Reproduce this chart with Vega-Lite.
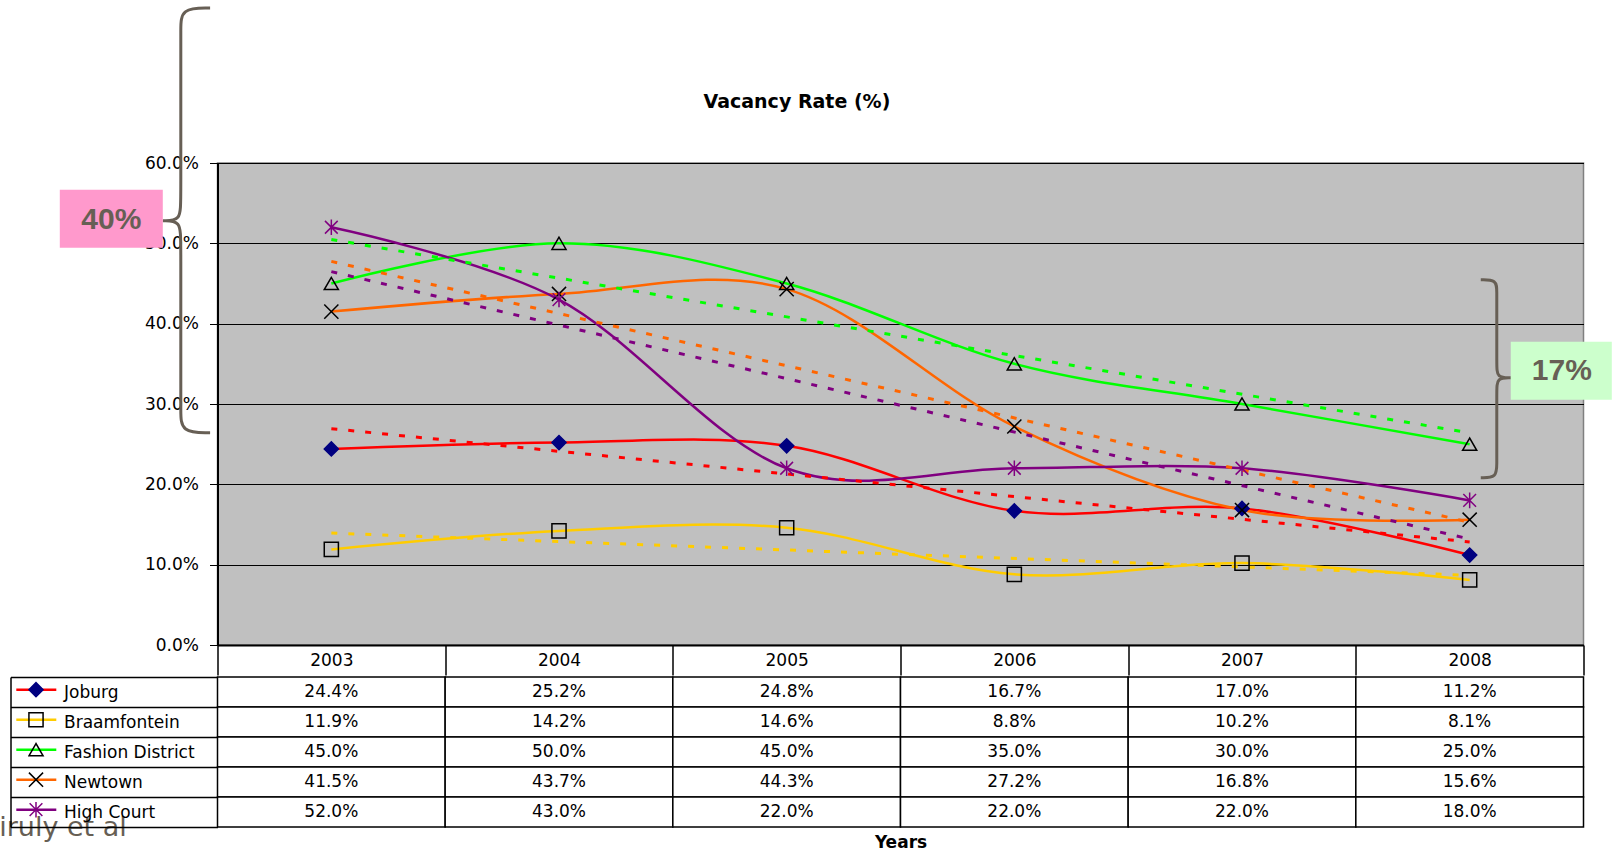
{
  "$schema": "https://vega.github.io/schema/vega-lite/v6.json",
  "background": "white",
  "padding": {"left": -19.5, "top": 1, "right": 1, "bottom": 0},
  "title": {"text": "Vacancy Rate (%)", "font": "DejaVu Sans", "fontSize": 19, "fontWeight": "bold", "color": "black", "anchor": "middle", "offset": -111},
  "datasets": {
    "rates": [
      {"series": "Joburg", "year": 2003, "value": 0.244},
      {"series": "Joburg", "year": 2004, "value": 0.252},
      {"series": "Joburg", "year": 2005, "value": 0.248},
      {"series": "Joburg", "year": 2006, "value": 0.167},
      {"series": "Joburg", "year": 2007, "value": 0.170},
      {"series": "Joburg", "year": 2008, "value": 0.112},
      {"series": "Braamfontein", "year": 2003, "value": 0.119},
      {"series": "Braamfontein", "year": 2004, "value": 0.142},
      {"series": "Braamfontein", "year": 2005, "value": 0.146},
      {"series": "Braamfontein", "year": 2006, "value": 0.088},
      {"series": "Braamfontein", "year": 2007, "value": 0.102},
      {"series": "Braamfontein", "year": 2008, "value": 0.081},
      {"series": "Fashion District", "year": 2003, "value": 0.45},
      {"series": "Fashion District", "year": 2004, "value": 0.50},
      {"series": "Fashion District", "year": 2005, "value": 0.45},
      {"series": "Fashion District", "year": 2006, "value": 0.35},
      {"series": "Fashion District", "year": 2007, "value": 0.30},
      {"series": "Fashion District", "year": 2008, "value": 0.25},
      {"series": "Newtown", "year": 2003, "value": 0.415},
      {"series": "Newtown", "year": 2004, "value": 0.437},
      {"series": "Newtown", "year": 2005, "value": 0.443},
      {"series": "Newtown", "year": 2006, "value": 0.272},
      {"series": "Newtown", "year": 2007, "value": 0.168},
      {"series": "Newtown", "year": 2008, "value": 0.156},
      {"series": "High Court", "year": 2003, "value": 0.52},
      {"series": "High Court", "year": 2004, "value": 0.43},
      {"series": "High Court", "year": 2005, "value": 0.22},
      {"series": "High Court", "year": 2006, "value": 0.22},
      {"series": "High Court", "year": 2007, "value": 0.22},
      {"series": "High Court", "year": 2008, "value": 0.18}
    ],
    "trend": [
      {"series": "Joburg", "year": 2003, "value": 0.2693},
      {"series": "Joburg", "year": 2008, "value": 0.1283},
      {"series": "Braamfontein", "year": 2003, "value": 0.1393},
      {"series": "Braamfontein", "year": 2008, "value": 0.0867},
      {"series": "Fashion District", "year": 2003, "value": 0.5048},
      {"series": "Fashion District", "year": 2008, "value": 0.2640},
      {"series": "Newtown", "year": 2003, "value": 0.4775},
      {"series": "Newtown", "year": 2008, "value": 0.1528},
      {"series": "High Court", "year": 2003, "value": 0.4648},
      {"series": "High Court", "year": 2008, "value": 0.1319}
    ],
    "brace": [
      {"brace": "left", "ord": 1, "ax": 2002.4675, "ay": 0.79296},
      {"brace": "left", "ord": 2, "ax": 2002.3388, "ay": 0.79296},
      {"brace": "left", "ord": 3, "ax": 2002.3388, "ay": 0.76594},
      {"brace": "left", "ord": 4, "ax": 2002.3388, "ay": 0.72859},
      {"brace": "left", "ord": 5, "ax": 2002.3388, "ay": 0.55431},
      {"brace": "left", "ord": 6, "ax": 2002.3388, "ay": 0.52817},
      {"brace": "left", "ord": 7, "ax": 2002.2597, "ay": 0.52817},
      {"brace": "left", "ord": 8, "ax": 2002.2597, "ay": 0.52817},
      {"brace": "left", "ord": 9, "ax": 2002.2597, "ay": 0.52817},
      {"brace": "left", "ord": 10, "ax": 2002.3388, "ay": 0.52817},
      {"brace": "left", "ord": 11, "ax": 2002.3388, "ay": 0.50203},
      {"brace": "left", "ord": 12, "ax": 2002.3388, "ay": 0.32775},
      {"brace": "left", "ord": 13, "ax": 2002.3388, "ay": 0.29165},
      {"brace": "left", "ord": 14, "ax": 2002.3388, "ay": 0.26426},
      {"brace": "left", "ord": 15, "ax": 2002.4675, "ay": 0.26426},
      {"brace": "right", "ord": 1, "ax": 2008.0488, "ay": 0.45472},
      {"brace": "right", "ord": 2, "ax": 2008.1191, "ay": 0.45472},
      {"brace": "right", "ord": 3, "ax": 2008.1191, "ay": 0.43979},
      {"brace": "right", "ord": 4, "ax": 2008.1191, "ay": 0.41738},
      {"brace": "right", "ord": 5, "ax": 2008.1191, "ay": 0.34891},
      {"brace": "right", "ord": 6, "ax": 2008.1191, "ay": 0.33273},
      {"brace": "right", "ord": 7, "ax": 2008.1806, "ay": 0.33273},
      {"brace": "right", "ord": 8, "ax": 2008.1806, "ay": 0.33273},
      {"brace": "right", "ord": 9, "ax": 2008.1806, "ay": 0.33273},
      {"brace": "right", "ord": 10, "ax": 2008.1191, "ay": 0.33273},
      {"brace": "right", "ord": 11, "ax": 2008.1191, "ay": 0.31655},
      {"brace": "right", "ord": 12, "ax": 2008.1191, "ay": 0.24808},
      {"brace": "right", "ord": 13, "ax": 2008.1191, "ay": 0.22567},
      {"brace": "right", "ord": 14, "ax": 2008.1191, "ay": 0.20824},
      {"brace": "right", "ord": 15, "ax": 2008.0488, "ay": 0.20824}
    ],
    "boxes": [
      {"label": "40%", "x1": 2001.8073, "x2": 2002.2597, "y1": 0.5668, "y2": 0.4946, "tx": 2002.0335, "ty": 0.5288},
      {"label": "17%", "x1": 2008.1806, "x2": 2008.6243, "y1": 0.3775, "y2": 0.3053, "tx": 2008.405, "ty": 0.3414}
    ]
  },
  "spacing": -10,
  "vconcat": [
    {
      "width": 1366,
      "height": 482,
      "view": {"fill": "#C0C0C0", "stroke": "#808080", "strokeWidth": 1.5},
      "layer": [
        {
          "data": {"name": "rates"},
          "mark": {"type": "line", "interpolate": "cardinal", "strokeWidth": 2.5},
          "encoding": {
            "x": {
              "field": "year", "type": "quantitative",
              "scale": {"domain": [2002.5, 2008.5], "nice": false, "zero": false},
              "axis": {"orient": "bottom", "title": null, "values": [2002.5, 2003.5, 2004.5, 2005.5, 2006.5, 2007.5, 2008.5], "labelExpr": "datum.value < 2003 ? '' : format(datum.value - 0.5, 'd')", "labelOffset": -113.83, "labelFlush": false, "labelOverlap": false, "tickSize": 30, "tickColor": "black", "tickWidth": 1.5, "domainColor": "black", "domainWidth": 2, "labelFontSize": 17, "labelColor": "black", "labelBaseline": "middle", "labelPadding": -14.5, "labelAngle": 0, "grid": false}
            },
            "y": {
              "field": "value", "type": "quantitative",
              "scale": {"domain": [0, 0.6], "nice": false, "zero": true},
              "axis": {"values": [0, 0.1, 0.2, 0.3, 0.4, 0.5, 0.6], "format": ".1%", "title": null, "grid": true, "gridColor": "black", "gridWidth": 1.2, "tickSize": 8, "tickColor": "black", "domainColor": "black", "domainWidth": 2, "labelFontSize": 17, "labelColor": "black", "labelPadding": 11}
            },
            "color": {
              "field": "series", "type": "nominal",
              "sort": ["Joburg", "Braamfontein", "Fashion District", "Newtown", "High Court"],
              "scale": {"range": ["#FF0000", "#FFCC00", "#00FF00", "#FF6600", "#800080"]},
              "legend": {"orient": "none", "legendX": -202.7, "legendY": 511.7, "title": null, "symbolType": "stroke", "symbolSize": 1600, "symbolStrokeWidth": 2.5, "clipHeight": 30, "rowPadding": 0, "padding": 0, "labelExpr": "''"}
            }
          }
        },
        {
          "data": {"name": "trend"},
          "mark": {"type": "line", "strokeWidth": 3, "strokeDash": [6, 11], "strokeCap": "butt"},
          "encoding": {
            "x": {"field": "year", "type": "quantitative"},
            "y": {"field": "value", "type": "quantitative"},
            "color": {"field": "series", "type": "nominal", "sort": ["Joburg", "Braamfontein", "Fashion District", "Newtown", "High Court"]}
          }
        },
        {
          "data": {"name": "rates"},
          "mark": {"type": "point", "filled": true, "size": 200, "strokeWidth": 1.5, "opacity": 1},
          "encoding": {
            "x": {"field": "year", "type": "quantitative"},
            "y": {"field": "value", "type": "quantitative"},
            "fill": {
              "field": "series", "type": "nominal",
              "scale": {"domain": ["Joburg", "Braamfontein", "Fashion District", "Newtown", "High Court"], "range": ["#000080", "transparent", "transparent", "transparent", "transparent"]},
              "legend": {"orient": "none", "legendX": -189.5, "legendY": 511.7, "title": null, "symbolSize": 200, "symbolStrokeWidth": 1.5, "symbolOpacity": 1, "clipHeight": 30, "rowPadding": 0, "padding": 0, "labelExpr": "''"}
            },
            "stroke": {
              "field": "series", "type": "nominal",
              "scale": {"domain": ["Joburg", "Braamfontein", "Fashion District", "Newtown", "High Court"], "range": ["#000080", "black", "black", "black", "#800080"]},
              "legend": {"orient": "none", "legendX": -189.5, "legendY": 511.7, "title": null, "symbolSize": 200, "symbolStrokeWidth": 1.5, "symbolOpacity": 1, "clipHeight": 30, "rowPadding": 0, "padding": 0, "labelExpr": "''"}
            },
            "shape": {
              "field": "series", "type": "nominal",
              "scale": {"domain": ["Joburg", "Braamfontein", "Fashion District", "Newtown", "High Court"], "range": ["diamond", "square", "triangle-up", "M-1,-1L1,1M-1,1L1,-1", "M0,-1.1L0,1.1M-0.9,-0.9L0.9,0.9M-0.9,0.9L0.9,-0.9"]},
              "legend": {"orient": "none", "legendX": -189.5, "legendY": 511.7, "title": null, "symbolSize": 200, "symbolStrokeWidth": 1.5, "symbolOpacity": 1, "clipHeight": 30, "rowPadding": 0, "padding": 0, "labelExpr": "''"}
            }
          }
        },
        {
          "data": {"name": "brace"},
          "mark": {"type": "line", "interpolate": "basis", "stroke": "#675F55", "strokeWidth": 3},
          "encoding": {
            "x": {"field": "ax", "type": "quantitative"},
            "y": {"field": "ay", "type": "quantitative"},
            "detail": {"field": "brace", "type": "nominal"},
            "order": {"field": "ord", "type": "quantitative"}
          }
        },
        {
          "data": {"name": "boxes"},
          "mark": {"type": "rect"},
          "encoding": {
            "x": {"field": "x1", "type": "quantitative"},
            "x2": {"field": "x2"},
            "y": {"field": "y1", "type": "quantitative"},
            "y2": {"field": "y2"},
            "fill": {"condition": {"test": "datum.label === '40%'", "value": "#FF99CC"}, "value": "#CCFFCC"}
          }
        },
        {
          "data": {"name": "boxes"},
          "mark": {"type": "text", "font": "Liberation Sans", "fontSize": 30, "fontWeight": "bold", "fill": "#675F55", "align": "center", "baseline": "middle"},
          "encoding": {
            "x": {"field": "tx", "type": "quantitative"},
            "y": {"field": "ty", "type": "quantitative"},
            "text": {"field": "label", "type": "nominal"}
          }
        }
      ]
    },
    {
      "width": 1366,
      "height": 150,
      "view": {"fill": "white", "stroke": null},
      "title": {"text": "Viruly et al", "orient": "bottom", "anchor": "start", "frame": "group", "dx": -236.2, "offset": -35, "font": "DejaVu Sans", "fontSize": 27, "fontWeight": "normal", "color": "#675F55"},
      "data": {"name": "rates"},
      "encoding": {
        "x": {
          "field": "year", "type": "nominal",
          "scale": {"type": "band", "domain": [2003, 2004, 2005, 2006, 2007, 2008], "paddingInner": 0, "paddingOuter": 0},
          "axis": {"title": "Years", "orient": "bottom", "labels": false, "ticks": false, "domain": false, "grid": false, "titleFontSize": 17, "titleFontWeight": "bold", "titlePadding": 7, "titleColor": "black"}
        },
        "y": {
          "field": "series", "type": "nominal",
          "scale": {"type": "band", "domain": ["Joburg", "Braamfontein", "Fashion District", "Newtown", "High Court"], "paddingInner": 0, "paddingOuter": 0},
          "axis": {"title": null, "orient": "left", "offset": 207, "tickBand": "extent", "tickSize": -207, "tickColor": "black", "tickWidth": 1.5, "domainColor": "black", "domainWidth": 1.5, "labelAlign": "left", "labelBaseline": "middle", "labelPadding": 154, "labelFontSize": 17, "labelColor": "black", "grid": false}
        }
      },
      "layer": [
        {"mark": {"type": "rect", "fill": "white", "stroke": "black", "strokeWidth": 1.5}},
        {
          "mark": {"type": "text", "font": "DejaVu Sans", "fontSize": 17, "fill": "black", "align": "center", "baseline": "middle"},
          "encoding": {"text": {"field": "value", "type": "quantitative", "format": ".1%"}}
        }
      ]
    }
  ],
  "config": {
    "font": "DejaVu Sans",
    "axis": {"labelColor": "black", "titleColor": "black", "labelFont": "DejaVu Sans", "titleFont": "DejaVu Sans"},
    "legend": {"labelFont": "DejaVu Sans"}
  }
}
